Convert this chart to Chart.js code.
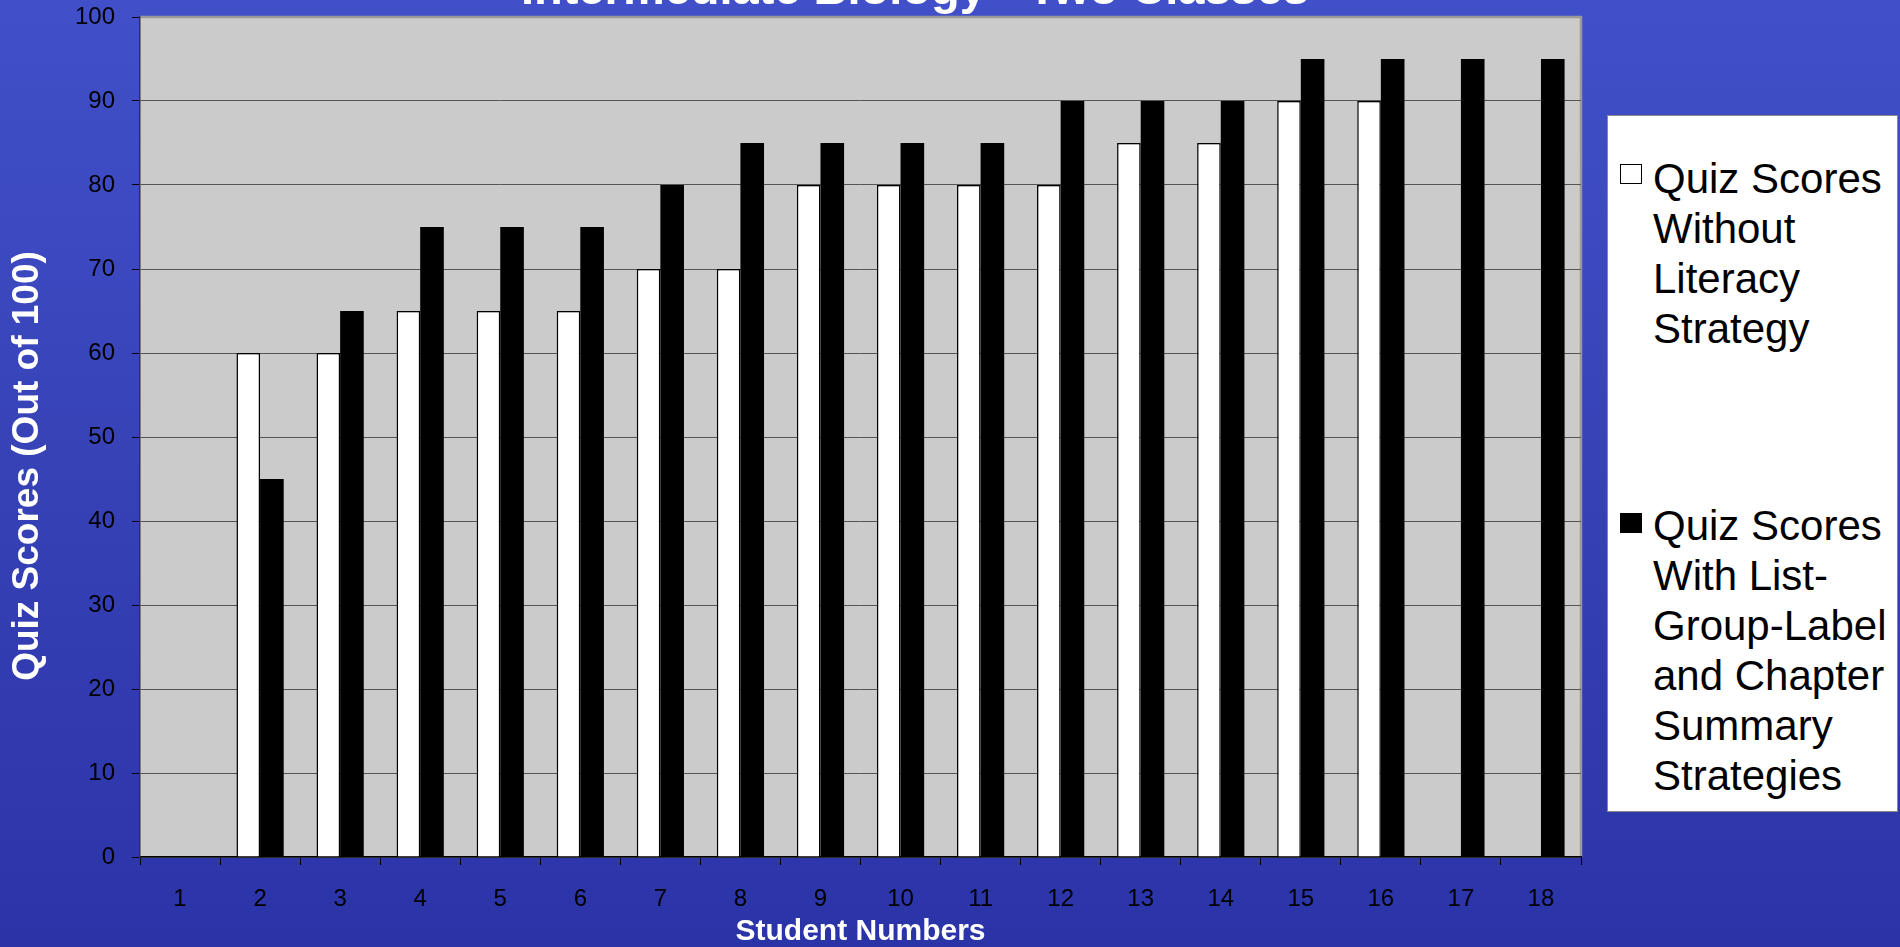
<!DOCTYPE html>
<html>
<head>
<meta charset="utf-8">
<script src="https://cdn.jsdelivr.net/npm/chart.js@4"></script>
<style>
  html, body { margin: 0; padding: 0; width: 1900px; height: 947px; overflow: hidden; }
  body {
    background: linear-gradient(180deg, #4150c9 0%, #3843b8 45%, #2b34a7 100%);
    font-family: "Liberation Sans", Arial, sans-serif;
    position: relative;
  }
  #wrap { position: absolute; left: 0; top: 0; width: 1900px; height: 947px; }
  .legend {
    position: absolute; left: 1607px; top: 115px; width: 291px; height: 697px;
    box-sizing: border-box; background: #fff; border: 1px solid #8a8a8a;
  }
  .entry { position: absolute; left: 0; }
  .swatch { position: absolute; left: 12px; width: 22px; height: 20px; box-sizing: border-box; border: 1.5px solid #000; }
  .label { position: absolute; left: 45px; font-size: 42px; line-height: 50px; color: #000; white-space: nowrap; }
</style>
</head>
<body>
<div id="wrap"><canvas id="chart" width="1900" height="947"></canvas></div>
<div class="legend">
  <div class="entry" style="top:38px">
    <div class="swatch" style="top:10px;background:#fff"></div>
    <div class="label">Quiz Scores<br>Without<br>Literacy<br>Strategy</div>
  </div>
  <div class="entry" style="top:385px">
    <div class="swatch" style="top:12px;background:#000"></div>
    <div class="label">Quiz Scores<br>With List-<br>Group-Label<br>and Chapter<br>Summary<br>Strategies</div>
  </div>
</div>
<script>
const students = ["1", "2", "3", "4", "5", "6", "7", "8", "9", "10", "11", "12", "13", "14", "15", "16", "17", "18"];
const withoutStrategy = [null, 60, 60, 65, 65, 65, 70, 70, 80, 80, 80, 80, 85, 85, 90, 90, null, null];
const withStrategy = [null, 45, 65, 75, 75, 75, 80, 85, 85, 85, 85, 90, 90, 90, 95, 95, 95, 95];
const yTicks = [0, 10, 20, 30, 40, 50, 60, 70, 80, 90, 100];

const FONT = "'Liberation Sans', Arial, sans-serif";

// grey plot panel, frame, title and the y-axis caption (sits lower than plot centre)
const plotFrame = {
  id: "plotFrame",
  beforeDraw(chart) {
    const { ctx, chartArea: a } = chart;
    ctx.save();
    ctx.fillStyle = "#cbcbcb";
    ctx.fillRect(a.left, a.top, a.right - a.left, a.bottom - a.top);
    ctx.strokeStyle = "#9a9a9a";
    ctx.lineWidth = 2.5;
    ctx.beginPath();
    ctx.moveTo(a.left, a.top);
    ctx.lineTo(a.right, a.top);
    ctx.lineTo(a.right, a.bottom);
    ctx.stroke();
    ctx.restore();
  },
  afterDraw(chart) {
    const { ctx } = chart;
    ctx.save();
    ctx.fillStyle = "#fff";
    ctx.font = `bold 47px ${FONT}`;
    ctx.textAlign = "center";
    ctx.textBaseline = "alphabetic";
    ctx.fillText("Intermediate Biology - Two Classes", 915, 4);

    ctx.translate(28, 466);
    ctx.rotate(-Math.PI / 2);
    ctx.font = `bold 37px ${FONT}`;
    ctx.textBaseline = "middle";
    ctx.fillText("Quiz Scores (Out of 100)", 0, 0);
    ctx.restore();
  },
};

new Chart(document.getElementById("chart"), {
  type: "bar",
  data: {
    labels: students,
    datasets: [
      {
        label: "Quiz Scores Without Literacy Strategy",
        data: withoutStrategy,
        backgroundColor: "#fff",
        borderColor: "#000",
        borderWidth: 1.5,
      },
      {
        label: "Quiz Scores With List-Group-Label and Chapter Summary Strategies",
        data: withStrategy,
        backgroundColor: "#000",
        borderColor: "#000",
        borderWidth: 0,
      },
    ],
  },
  options: {
    responsive: false,
    animation: false,
    devicePixelRatio: 1,
    layout: { padding: { left: 0, top: 17, right: 319, bottom: 0 } },
    datasets: { bar: { categoryPercentage: 0.59, barPercentage: 1 } },
    plugins: { legend: { display: false }, tooltip: { enabled: false } },
    scales: {
      x: {
        offset: true,
        afterFit: (s) => { s.height = 90; s.paddingLeft = 0; s.paddingRight = 0; },
        grid: { offset: true, drawOnChartArea: false, drawTicks: true, tickLength: 8, color: "#000", lineWidth: 1 },
        border: { display: true, color: "#000", width: 1.5 },
        ticks: { color: "#000", font: { family: FONT, size: 24 }, padding: 20, maxRotation: 0 },
        title: {
          display: true,
          text: "Student Numbers",
          color: "#fff",
          font: { family: FONT, size: 30, weight: "bold", lineHeight: 1 },
          padding: { top: 0, bottom: 0 },
        },
      },
      y: {
        min: 0,
        max: 100,
        afterFit: (s) => { s.width = 140; s.paddingTop = 0; s.paddingBottom = 0; },
        afterBuildTicks: (s) => { s.ticks = yTicks.map((v) => ({ value: v })); },
        grid: {
          color: (c) => (c.tick && c.tick.value === 100 ? "#9a9a9a" : "#555"),
          tickColor: "#000",
          lineWidth: 1,
          tickLength: 8,
        },
        border: { display: true, color: "#333", width: 1.5 },
        ticks: { color: "#000", font: { family: FONT, size: 24 }, padding: 17 },
      },
    },
  },
  plugins: [plotFrame],
});
</script>
</body>
</html>
